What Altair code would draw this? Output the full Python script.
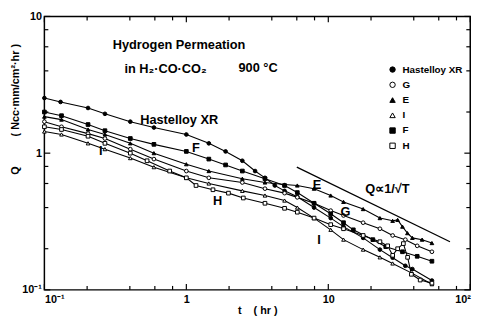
import altair as alt
import pandas as pd

# ---- data (t in hr, Q in Ncc*mm/cm2*hr) ----
series_names = ["Hastelloy XR", "G", "E", "I", "F", "H"]
series_shapes = ["circle", "circle", "triangle-up", "triangle-up", "square", "square"]
series_fills = ["black", "white", "black", "white", "black", "white"]

xr_t = [0.1, 0.13, 0.203, 0.267, 0.403, 0.591, 1, 1.44, 1.89, 2.48, 3.05, 3.58, 4.2, 4.92, 6.05, 7.94, 10.4, 12.8, 17.6, 23.1, 28.4, 34.9, 39.1, 53.7]
xr_q = [2.53, 2.37, 2.14, 1.94, 1.70, 1.54, 1.37, 1.18, 1.03, 0.88, 0.74, 0.66, 0.58, 0.53, 0.48, 0.40, 0.335, 0.29, 0.24, 0.197, 0.172, 0.15, 0.142, 0.117]

f_t = [0.1, 0.132, 0.203, 0.267, 0.403, 0.591, 1, 1.44, 1.89, 2.48, 3.58, 4.92, 6.05, 7.94, 10.4, 12.8, 15.0, 20.6, 25.4, 33.3, 42.3, 53.7]
f_q = [2.0, 1.88, 1.62, 1.46, 1.28, 1.16, 1.03, 0.905, 0.82, 0.74, 0.65, 0.58, 0.515, 0.43, 0.36, 0.31, 0.275, 0.233, 0.207, 0.19, 0.176, 0.162]

e_t = [0.1, 0.132, 0.203, 0.267, 0.403, 0.591, 1, 1.44, 2.48, 3.58, 4.92, 6.05, 7.94, 10.4, 12.8, 17.6, 23.1, 28.4, 30.8, 33.3, 36.1, 39.1, 45.8, 53.7]
e_q = [1.85, 1.76, 1.49, 1.37, 1.18, 1.0, 0.83, 0.74, 0.65, 0.61, 0.59, 0.58, 0.55, 0.49, 0.44, 0.39, 0.335, 0.32, 0.325, 0.29, 0.26, 0.24, 0.233, 0.22]

g_t = [0.1, 0.132, 0.203, 0.267, 0.403, 0.591, 1, 1.44, 2.48, 3.58, 4.92, 6.05, 7.94, 10.4, 12.8, 17.6, 23.1, 28.4, 34.9, 42.3, 53.7]
g_q = [1.70, 1.56, 1.39, 1.28, 1.07, 0.905, 0.74, 0.66, 0.61, 0.55, 0.51, 0.475, 0.43, 0.38, 0.35, 0.31, 0.28, 0.25, 0.233, 0.21, 0.19]

h_t = [0.1, 0.132, 0.203, 0.267, 0.403, 0.529, 0.763, 1, 1.17, 1.54, 1.98, 2.52, 3.58, 4.92, 6.05, 7.94, 10.4, 12.8, 17.6, 23.1, 26.2, 28.4, 30.8, 33.8, 36.2, 38.5, 44.4, 53.7]
h_q = [1.56, 1.49, 1.33, 1.18, 1.0, 0.88, 0.74, 0.66, 0.58, 0.54, 0.51, 0.47, 0.43, 0.395, 0.37, 0.335, 0.30, 0.28, 0.25, 0.225, 0.21, 0.179, 0.20, 0.218, 0.173, 0.13, 0.118, 0.112]

i_t = [0.1, 0.132, 0.203, 0.267, 0.403, 0.591, 1, 1.44, 2.48, 3.58, 4.92, 6.05, 7.94, 10.4, 12.8, 17.6, 23.1, 28.4, 39.1, 53.7]
i_q = [1.44, 1.37, 1.18, 1.07, 0.92, 0.79, 0.66, 0.60, 0.53, 0.49, 0.45, 0.40, 0.335, 0.275, 0.233, 0.197, 0.173, 0.156, 0.132, 0.11]

ref_t = [6.0, 72.0]
ref_q = [0.79, 0.225]

ann_left_text = ["Hydrogen Permeation", "in H\u2082\u00b7CO\u00b7CO\u2082", "900 \u00b0C", "Hastelloy XR", "Q\u221d1/\u221aT"]
ann_left_t = [0.303, 0.366, 2.33, 0.473, 18.2]
ann_left_q = [6.19, 4.09, 4.16, 1.76, 0.55]

ann_mid_text = ["F", "I", "H", "E", "G", "I"]
ann_mid_t = [1.17, 0.25, 1.66, 8.32, 13.2, 8.6]
ann_mid_q = [1.09, 1.03, 0.45, 0.58, 0.37, 0.233]

x_major = [0.1, 1, 10, 100]
x_minor = [0.2, 0.4, 0.6, 0.8, 2, 4, 6, 8, 20, 40, 60, 80]
y_major = [0.1, 1, 10]
y_minor = [0.2, 0.4, 0.6, 0.8, 2, 4, 6, 8]

# ---- build tables ----
rows = []
for name, ts, qs in [("Hastelloy XR", xr_t, xr_q), ("G", g_t, g_q), ("E", e_t, e_q),
                     ("I", i_t, i_q), ("F", f_t, f_q), ("H", h_t, h_q)]:
    for t, q in zip(ts, qs):
        rows.append({"series": name, "t": t, "Q": q})
df = pd.DataFrame(rows)
ref_df = pd.DataFrame({"t": ref_t, "Q": ref_q})
annl = pd.DataFrame({"t": ann_left_t, "Q": ann_left_q, "label": ann_left_text})
annm = pd.DataFrame({"t": ann_mid_t, "Q": ann_mid_q, "label": ann_mid_text})
xmin_df = pd.DataFrame({"t": x_minor})
xmaj_df = pd.DataFrame({"t": x_major})
ymin_df = pd.DataFrame({"Q": y_minor})
ymaj_df = pd.DataFrame({"Q": y_major})

W, H = 433, 278
FONT = "Liberation Sans"

xs = alt.Scale(type="log", domain=[0.1, 100], nice=False)
ys = alt.Scale(type="log", domain=[0.1, 10], nice=False)

x_axis = alt.Axis(values=x_major, title="t\u00a0\u00a0\u00a0\u00a0( hr )",
                  labelExpr="datum.value < 0.5 ? '10\u207b\u00b9' : datum.value > 50 ? '10\u00b2' : datum.value > 5 ? '10' : '1'",
                  labelPadding=4, titlePadding=0)
y_axis = alt.Axis(values=y_major,
                  title="Q\u00a0\u00a0\u00a0\u00a0\u00a0\u00a0\u00a0\u00a0\u00a0\u00a0( Ncc\u00b7mm/cm\u00b2\u00b7hr )",
                  labelExpr="datum.value < 0.5 ? '10\u207b\u00b9' : datum.value > 5 ? '10' : '1'",
                  labelPadding=3, titleX=-29, titleY=94, titleBaseline="middle", titleAlign="center")

leg = alt.Legend(title=None, orient="none", legendX=349, legendY=49,
                 labelFont=FONT, labelFontSize=10, labelFontWeight="bold",
                 labelColor="black", symbolSize=30, symbolStrokeColor="black",
                 symbolStrokeWidth=1, rowPadding=5.5, labelOffset=5, padding=0)

lines = alt.Chart(df).mark_line(color="black", strokeWidth=1.1).encode(
    x=alt.X("t:Q", scale=xs, axis=x_axis),
    y=alt.Y("Q:Q", scale=ys, axis=y_axis),
    detail="series:N",
)

points = alt.Chart(df).mark_point(filled=True, strokeWidth=1, size=14, opacity=1).encode(
    x=alt.X("t:Q", scale=xs),
    y=alt.Y("Q:Q", scale=ys),
    shape=alt.Shape("series:N", scale=alt.Scale(domain=series_names, range=series_shapes), legend=leg),
    fill=alt.Fill("series:N", scale=alt.Scale(domain=series_names, range=series_fills), legend=leg),
    stroke=alt.Stroke("series:N", scale=alt.Scale(domain=series_names, range=["black"] * 6), legend=leg),
)

ref = alt.Chart(ref_df).mark_line(color="black", strokeWidth=1.3).encode(
    x=alt.X("t:Q", scale=xs), y=alt.Y("Q:Q", scale=ys))

txt_l = alt.Chart(annl).mark_text(align="left", baseline="middle", font=FONT, fontSize=13,
                                   fontWeight="bold", color="black").encode(
    x=alt.X("t:Q", scale=xs), y=alt.Y("Q:Q", scale=ys), text="label:N")
txt_m = alt.Chart(annm).mark_text(align="center", baseline="middle", font=FONT, fontSize=13,
                                   fontWeight="bold", color="black").encode(
    x=alt.X("t:Q", scale=xs), y=alt.Y("Q:Q", scale=ys), text="label:N")

def xt(data, y0, y1):
    return alt.Chart(data).mark_rule(color="black", strokeWidth=1.2).encode(
        x=alt.X("t:Q", scale=xs), y=alt.value(y0), y2=alt.value(y1))

def yt(data, x0, x1):
    return alt.Chart(data).mark_rule(color="black", strokeWidth=1.2).encode(
        y=alt.Y("Q:Q", scale=ys), x=alt.value(x0), x2=alt.value(x1))

ticks = [xt(xmin_df, H, H - 4), xt(xmaj_df, H, H - 6), xt(xmin_df, 0, 4), xt(xmaj_df, 0, 6),
         yt(ymin_df, 0, 4), yt(ymaj_df, 0, 6), yt(ymin_df, W, W - 4), yt(ymaj_df, W, W - 6)]

chart = alt.layer(lines, ref, points, txt_l, txt_m, *ticks).properties(
    width=W, height=H, autosize="none",
    padding={"left": 37, "top": 6, "right": 15, "bottom": 26},
    background="white",
).configure_view(stroke="black", strokeWidth=1.5).configure_axis(
    domain=False, ticks=False, grid=False, labelFont=FONT, labelFontSize=11,
    labelFontWeight="bold", labelColor="black", titleFont=FONT, titleFontSize=11,
    titleFontWeight="bold", titleColor="black",
)

chart.save("out.html", embed_options={"renderer": "svg", "actions": False})
